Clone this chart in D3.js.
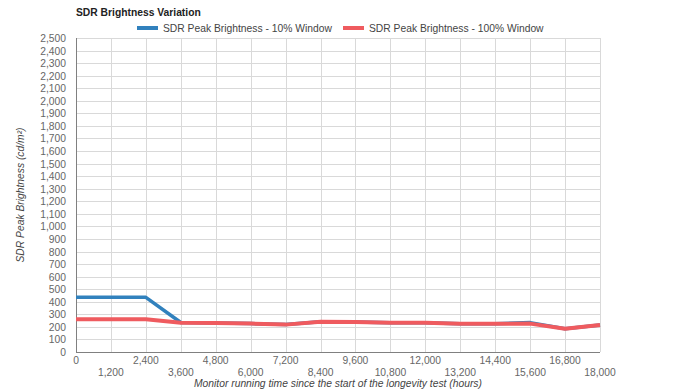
<!DOCTYPE html>
<html><head><meta charset="utf-8">
<script src="https://cdn.jsdelivr.net/npm/d3@7"></script>
<style>
body{margin:0;background:#fff;}
text{font-family:"Liberation Sans",Arial,sans-serif;}
</style></head><body>
<svg id="c" width="675" height="390"></svg>
<script>
const hours = [0,1200,2400,3600,4800,6000,7200,8400,9600,10800,12000,13200,14400,15600,16800,18000];
const peak10 = [435,435,435,235,230,226,218,240,238,232,232,225,225,234,185,215];
const peak100 = [260,260,260,232,230,226,218,240,238,232,232,225,225,226,185,215];
const seriesNames = ["SDR Peak Brightness - 10% Window","SDR Peak Brightness - 100% Window"];
const xTicks = d3.range(0,18001,1200);
const yTicks = d3.range(0,2501,100);

const svg = d3.select("#c");
const L=76,R=600,T=38,B=352;
const x = d3.scaleLinear().domain([0,18000]).range([L,R]);
const y = d3.scaleLinear().domain([0,2500]).range([B,T]);

// grid
svg.append("g").selectAll("line").data(yTicks.slice(1)).join("line")
  .attr("x1",L).attr("x2",R).attr("y1",d=>Math.round(y(d))+0.5).attr("y2",d=>Math.round(y(d))+0.5)
  .attr("stroke","#d9d9d9").attr("stroke-width",1);
svg.append("g").selectAll("line").data(xTicks.slice(1)).join("line")
  .attr("y1",T).attr("y2",B).attr("x1",d=>Math.round(x(d))+0.5).attr("x2",d=>Math.round(x(d))+0.5)
  .attr("stroke","#d9d9d9").attr("stroke-width",1);

// axes lines
svg.append("line").attr("x1",L+0.5).attr("x2",L+0.5).attr("y1",T).attr("y2",B).attr("stroke","#808080");
svg.append("line").attr("x1",L).attr("x2",R).attr("y1",B+0.5).attr("y2",B+0.5).attr("stroke","#808080");

// y tick labels
const fmt = d3.format(",");
svg.append("g").selectAll("text").data(yTicks).join("text")
  .attr("x",L-10).attr("y",d=>y(d)+4).attr("text-anchor","end")
  .attr("font-size",10.3).attr("fill","#666").text(d=>fmt(d));
// x tick labels
svg.append("g").selectAll("text").data(xTicks).join("text")
  .attr("x",d=>x(d)).attr("y",(d,i)=> i%2===0 ? 364 : 376).attr("text-anchor","middle")
  .attr("font-size",10.3).attr("fill","#666").text(d=>fmt(d));

// titles
svg.append("text").attr("x",76).attr("y",16).attr("font-size",10.3).attr("font-weight","bold")
  .attr("fill","#222").text("SDR Brightness Variation");
svg.append("text").attr("x",(L+R)/2).attr("y",387).attr("text-anchor","middle")
  .attr("font-size",10.3).attr("font-style","italic").attr("fill","#444")
  .text("Monitor running time since the start of the longevity test (hours)");
svg.append("text").attr("transform",`translate(24,${(T+B)/2}) rotate(-90)`).attr("text-anchor","middle")
  .attr("font-size",10.3).attr("font-style","italic").attr("fill","#444")
  .text("SDR Peak Brightness (cd/m²)");

// lines
const colors = ["#3181bd","#ef5b5f"];
const line = d3.line().x((d,i)=>x(hours[i])).y(d=>y(d));
svg.append("path").datum(peak10).attr("d",line).attr("fill","none")
  .attr("stroke",colors[0]).attr("stroke-width",3.5).attr("stroke-linejoin","round");
svg.append("path").datum(peak100).attr("d",line).attr("fill","none")
  .attr("stroke",colors[1]).attr("stroke-width",4).attr("stroke-linejoin","round");

// legend
const lg = [{x:137,name:seriesNames[0],c:colors[0]},{x:343,name:seriesNames[1],c:colors[1]}];
lg.forEach(d=>{
  svg.append("line").attr("x1",d.x).attr("x2",d.x+21).attr("y1",28).attr("y2",28)
    .attr("stroke",d.c).attr("stroke-width",4);
  svg.append("text").attr("x",d.x+26).attr("y",32).attr("font-size",10.3).attr("fill","#444").text(d.name);
});
</script></body></html>
